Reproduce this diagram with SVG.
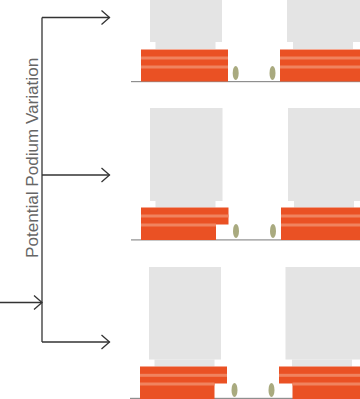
<svg xmlns="http://www.w3.org/2000/svg" width="360" height="399" viewBox="0 0 360 399">
<style>
.t{fill:#e4e4e4}
.o{fill:#ea5124}
.s{fill:#f0835f}
.g{fill:#8f8f8f}
.e{fill:#a9aa7f}
.c{fill:none;stroke:#333;stroke-width:1.3}
.l{font-family:"Liberation Sans",Arial,sans-serif;font-size:17.1px;fill:#666}
</style>
<defs>
<marker id="a" markerUnits="userSpaceOnUse" markerWidth="12" markerHeight="16" refX="10" refY="8" orient="auto"><path d="M2 1L10 8L2 15" fill="none" stroke="#333" stroke-width="1.3"/></marker>
</defs>
<rect width="360" height="399" fill="#fff"/>
<g id="row1">
<rect class="g" x="131" y="81" width="229" height="1.2"/>
<rect class="t" x="150" y="0" width="72" height="42"/><rect class="t" x="155.500" y="42" width="60" height="7"/>
<rect class="t" x="287" y="0" width="73" height="42"/><rect class="t" x="293" y="42" width="60" height="7"/>
<rect class="o" x="141" y="49.500" width="87" height="32"/><rect class="s" x="141" y="56.500" width="87" height="3"/><rect class="s" x="141" y="65.500" width="87" height="3"/>
<rect class="o" x="280" y="49.500" width="80" height="32"/><rect class="s" x="280" y="56.500" width="80" height="3"/><rect class="s" x="280" y="65.500" width="80" height="3"/>
<ellipse class="e" cx="235.700" cy="73" rx="3" ry="7"/><ellipse class="e" cx="272.500" cy="73" rx="3" ry="7"/>
</g>
<g id="row2">
<rect class="g" x="131" y="239.300" width="229" height="1.2"/>
<rect class="t" x="150" y="108" width="72.500" height="93"/><rect class="t" x="155.500" y="201" width="60" height="6.500"/>
<rect class="t" x="288" y="108" width="72" height="93"/><rect class="t" x="294" y="201" width="60" height="6.500"/>
<rect class="o" x="141" y="207.500" width="87.500" height="17"/><rect class="o" x="141" y="224" width="75" height="16"/>
<rect class="s" x="141" y="214.500" width="87.500" height="3"/><rect class="s" x="141" y="223.500" width="75" height="3"/>
<rect class="o" x="281" y="207.500" width="79" height="32.500"/><rect class="s" x="281" y="214.500" width="79" height="3"/><rect class="s" x="281" y="223.500" width="79" height="3"/>
<ellipse class="e" cx="236" cy="231" rx="3" ry="7"/><ellipse class="e" cx="273" cy="231" rx="3" ry="7"/>
</g>
<g id="row3">
<rect class="g" x="130" y="397.800" width="230" height="1.200"/>
<rect class="t" x="149" y="267" width="72" height="92.500"/><rect class="t" x="154.500" y="359.500" width="60" height="7"/>
<rect class="t" x="285.500" y="267" width="74.500" height="92.500"/><rect class="t" x="292" y="359.500" width="60" height="7"/>
<rect class="o" x="140" y="366.500" width="87" height="17"/><rect class="o" x="140" y="383" width="74.500" height="16"/>
<rect class="s" x="140" y="373.800" width="87" height="3"/><rect class="s" x="140" y="382.500" width="74.500" height="3"/>
<rect class="o" x="279" y="366.500" width="81" height="17"/><rect class="o" x="292.500" y="383" width="67.500" height="16"/>
<rect class="s" x="279" y="373.800" width="81" height="3"/><rect class="s" x="292.500" y="382.500" width="67.500" height="3"/>
<ellipse class="e" cx="234.500" cy="390" rx="3" ry="7"/><ellipse class="e" cx="271.500" cy="390" rx="3" ry="7"/>
</g>
<g id="connectors">
<path class="c" d="M42 17.500V342"/>
<path class="c" d="M42 17.500H109.500" marker-end="url(#a)"/>
<path class="c" d="M42 175H109.500" marker-end="url(#a)"/>
<path class="c" d="M42 342H109.500" marker-end="url(#a)"/>
<path class="c" d="M0 302.500H42" marker-end="url(#a)"/>
</g>
<g id="label"><text class="l" transform="translate(38.300 258) rotate(-90)">Potential Podium Variation</text></g>
</svg>
